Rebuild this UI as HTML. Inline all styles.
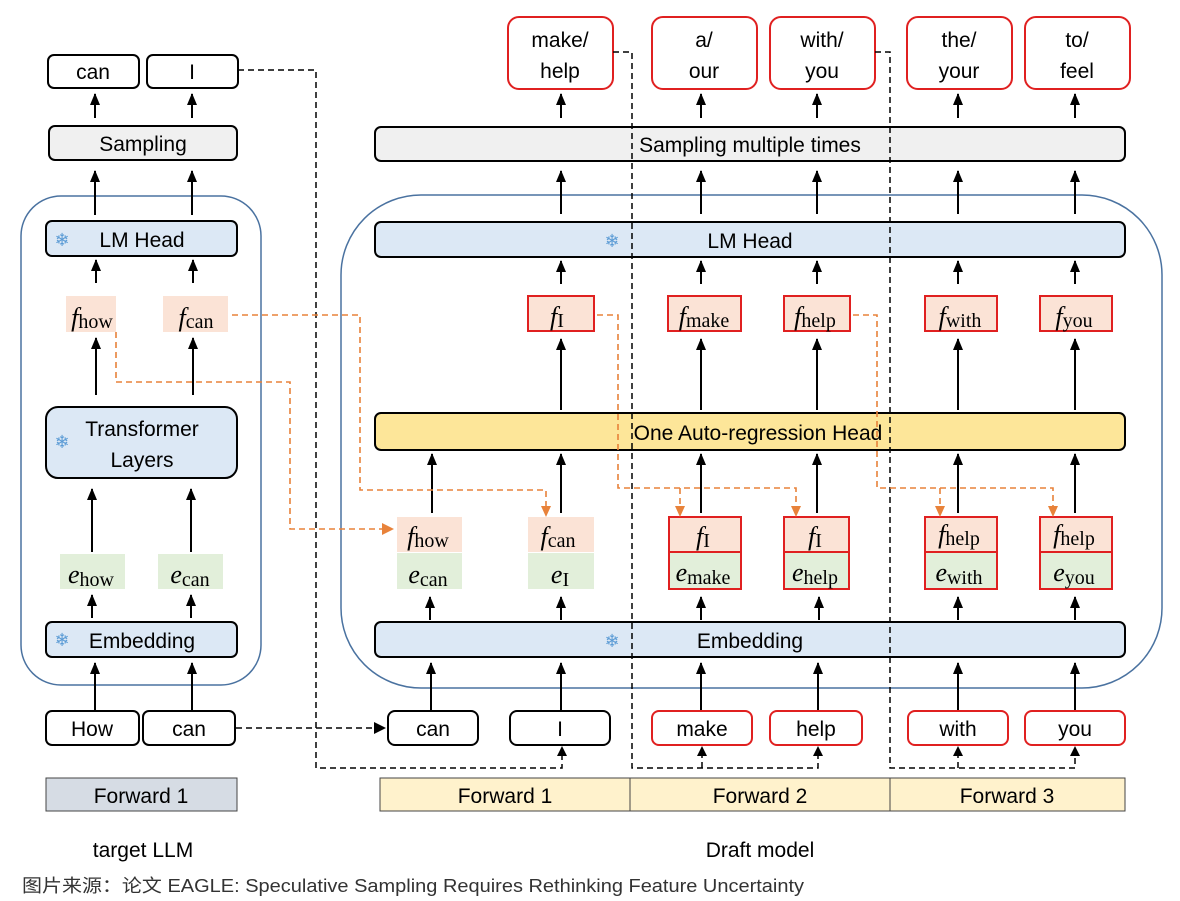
<!DOCTYPE html>
<html><head><meta charset="utf-8"><style>
html,body{margin:0;padding:0;background:#fff;width:1180px;height:901px;overflow:hidden}
svg{display:block}
.t{font-family:"Liberation Sans",sans-serif;font-size:21px;fill:#000;text-anchor:middle}
.m{font-family:"Liberation Serif",serif;fill:#000;text-anchor:middle}
.fi{font-style:italic;font-size:26px}
.sb{font-size:20px}
.sn{font-family:"DejaVu Sans",sans-serif;font-size:18px;fill:#5b9bd5;text-anchor:middle}
</style></head><body>
<svg width="1180" height="901" viewBox="0 0 1180 901" xmlns="http://www.w3.org/2000/svg">
<defs>
<marker id="a" markerWidth="12" markerHeight="12" refX="11" refY="5" orient="auto" markerUnits="userSpaceOnUse" viewBox="0 0 12 10"><path d="M0,0 L12,5 L0,10 z" fill="#000"/></marker>
<marker id="ar" markerWidth="12" markerHeight="12" refX="10" refY="6" orient="auto" markerUnits="userSpaceOnUse" viewBox="0 0 12 12"><path d="M0,0 L12,6 L0,12 z" fill="#e8823a"/></marker>
<marker id="ak" markerWidth="12" markerHeight="12" refX="10" refY="6" orient="auto" markerUnits="userSpaceOnUse" viewBox="0 0 12 12"><path d="M0,0 L12,6 L0,12 z" fill="#000"/></marker>
</defs>

<rect x="21" y="196" width="240" height="489" rx="40" fill="none" stroke="#4a72a0" stroke-width="1.5"/>
<rect x="341" y="195" width="821" height="493" rx="80" fill="none" stroke="#4a72a0" stroke-width="1.5"/>

<g stroke="#000" stroke-width="2" fill="#fff">
<rect x="48" y="55" width="91" height="33" rx="6"/>
<rect x="147" y="55" width="91" height="33" rx="6"/>
<rect x="49" y="126" width="188" height="34" rx="6" fill="#f0f0f0"/>
<rect x="46" y="221" width="191" height="35" rx="6" fill="#dce8f5"/>
<rect x="46" y="407" width="191" height="71" rx="12" fill="#dce8f5"/>
<rect x="46" y="622" width="191" height="35" rx="6" fill="#dce8f5"/>
<rect x="46" y="711" width="93" height="34" rx="6"/>
<rect x="143" y="711" width="92" height="34" rx="6"/>
</g>
<rect x="46" y="778" width="191" height="33" fill="#d6dce4" stroke="#444" stroke-width="1"/>
<rect x="66" y="296" width="50" height="36" fill="#fbe3d6"/>
<rect x="163" y="296" width="65" height="36" fill="#fbe3d6"/>
<rect x="60" y="554" width="65" height="35" fill="#e2efda"/>
<rect x="158" y="554" width="65" height="35" fill="#e2efda"/>

<g stroke="#000" stroke-width="2" marker-end="url(#a)">
<line x1="95" y1="118" x2="95" y2="94"/><line x1="192" y1="118" x2="192" y2="94"/>
<line x1="95" y1="215" x2="95" y2="171"/><line x1="192" y1="215" x2="192" y2="171"/>
<line x1="96" y1="283" x2="96" y2="260"/><line x1="193" y1="283" x2="193" y2="260"/>
<line x1="96" y1="395" x2="96" y2="338"/><line x1="193" y1="395" x2="193" y2="338"/>
<line x1="92" y1="552" x2="92" y2="489"/><line x1="191" y1="552" x2="191" y2="489"/>
<line x1="92" y1="618" x2="92" y2="595"/><line x1="191" y1="618" x2="191" y2="595"/>
<line x1="95" y1="710" x2="95" y2="663"/><line x1="192" y1="710" x2="192" y2="663"/>
</g>

<text class="t" x="93" y="79">can</text>
<text class="t" x="192" y="79">I</text>
<text class="t" x="143" y="151">Sampling</text>
<text class="sn" x="62" y="246">❄</text><text class="t" x="142" y="247">LM Head</text>
<text class="sn" x="62" y="448">❄</text>
<text class="t" x="142" y="436">Transformer</text><text class="t" x="142" y="467">Layers</text>
<text class="sn" x="62" y="646">❄</text><text class="t" x="142" y="648">Embedding</text>
<text class="t" x="92" y="736">How</text>
<text class="t" x="189" y="736">can</text>
<text class="t" x="141" y="803">Forward 1</text>
<text class="t" x="143" y="857">target LLM</text>

<text class="m" x="92" y="326"><tspan class="fi">f</tspan><tspan class="sb" dy="2">how</tspan></text>
<text class="m" x="196" y="326"><tspan class="fi">f</tspan><tspan class="sb" dy="2">can</tspan></text>
<text class="m" x="91" y="583"><tspan class="fi">e</tspan><tspan class="sb" dy="3">how</tspan></text>
<text class="m" x="190" y="583"><tspan class="fi">e</tspan><tspan class="sb" dy="3">can</tspan></text>

<g stroke="#e02020" stroke-width="2" fill="#fff">
<rect x="508" y="17" width="105" height="72" rx="11"/>
<rect x="652" y="17" width="105" height="72" rx="11"/>
<rect x="770" y="17" width="105" height="72" rx="11"/>
<rect x="907" y="17" width="105" height="72" rx="11"/>
<rect x="1025" y="17" width="105" height="72" rx="11"/>
</g>
<text class="t" x="560" y="47">make/</text><text class="t" x="560" y="78">help</text>
<text class="t" x="704" y="47">a/</text><text class="t" x="704" y="78">our</text>
<text class="t" x="822" y="47">with/</text><text class="t" x="822" y="78">you</text>
<text class="t" x="959" y="47">the/</text><text class="t" x="959" y="78">your</text>
<text class="t" x="1077" y="47">to/</text><text class="t" x="1077" y="78">feel</text>

<g stroke="#000" stroke-width="2">
<rect x="375" y="127" width="750" height="34" rx="6" fill="#f0f0f0"/>
<rect x="375" y="222" width="750" height="35" rx="6" fill="#dce8f5"/>
<rect x="375" y="413" width="750" height="37" rx="6" fill="#fde699"/>
<rect x="375" y="622" width="750" height="35" rx="6" fill="#dce8f5"/>
<rect x="388" y="711" width="90" height="34" rx="7" fill="#fff"/>
<rect x="510" y="711" width="100" height="34" rx="7" fill="#fff"/>
</g>
<g stroke="#e02020" stroke-width="2" fill="#fff">
<rect x="652" y="711" width="100" height="34" rx="7"/>
<rect x="770" y="711" width="92" height="34" rx="7"/>
<rect x="908" y="711" width="100" height="34" rx="7"/>
<rect x="1025" y="711" width="100" height="34" rx="7"/>
</g>
<rect x="380" y="778" width="745" height="33" fill="#fff2cc" stroke="#444" stroke-width="1"/>
<line x1="630" y1="778" x2="630" y2="811" stroke="#444"/>
<line x1="890" y1="778" x2="890" y2="811" stroke="#444"/>

<text class="t" x="750" y="152">Sampling multiple times</text>
<text class="sn" x="612" y="247">❄</text><text class="t" x="750" y="248">LM Head</text>
<text class="t" x="758" y="440">One Auto-regression Head</text>
<text class="sn" x="612" y="647">❄</text><text class="t" x="750" y="648">Embedding</text>
<text class="t" x="433" y="736">can</text>
<text class="t" x="560" y="736">I</text>
<text class="t" x="702" y="736">make</text>
<text class="t" x="816" y="736">help</text>
<text class="t" x="958" y="736">with</text>
<text class="t" x="1075" y="736">you</text>
<text class="t" x="505" y="803">Forward 1</text>
<text class="t" x="760" y="803">Forward 2</text>
<text class="t" x="1007" y="803">Forward 3</text>
<text class="t" x="760" y="857">Draft model</text>

<g fill="#fbe3d6" stroke="#e02020" stroke-width="2">
<rect x="528" y="296" width="66" height="35"/>
<rect x="668" y="296" width="73" height="35"/>
<rect x="784" y="296" width="66" height="35"/>
<rect x="925" y="296" width="72" height="35"/>
<rect x="1040" y="296" width="72" height="35"/>
</g>
<text class="m" x="557" y="325"><tspan class="fi">f</tspan><tspan class="sb" dy="2">I</tspan></text>
<text class="m" x="704" y="325"><tspan class="fi">f</tspan><tspan class="sb" dy="2">make</tspan></text>
<text class="m" x="815" y="325"><tspan class="fi">f</tspan><tspan class="sb" dy="2">help</tspan></text>
<text class="m" x="960" y="325"><tspan class="fi">f</tspan><tspan class="sb" dy="2">with</tspan></text>
<text class="m" x="1074" y="325"><tspan class="fi">f</tspan><tspan class="sb" dy="2">you</tspan></text>

<rect x="397" y="517" width="65" height="35" fill="#fbe3d6"/><rect x="397" y="553" width="65" height="36" fill="#e2efda"/>
<rect x="528" y="517" width="66" height="35" fill="#fbe3d6"/><rect x="528" y="553" width="66" height="36" fill="#e2efda"/>
<g stroke="#e02020" stroke-width="2">
<rect x="669" y="517" width="72" height="35" fill="#fbe3d6"/><rect x="669" y="552" width="72" height="37" fill="#e2efda"/>
<rect x="784" y="517" width="65" height="35" fill="#fbe3d6"/><rect x="784" y="552" width="65" height="37" fill="#e2efda"/>
<rect x="925" y="517" width="72" height="35" fill="#fbe3d6"/><rect x="925" y="552" width="72" height="37" fill="#e2efda"/>
<rect x="1040" y="517" width="72" height="35" fill="#fbe3d6"/><rect x="1040" y="552" width="72" height="37" fill="#e2efda"/>
</g>
<text class="m" x="428" y="545"><tspan class="fi">f</tspan><tspan class="sb" dy="2">how</tspan></text>
<text class="m" x="428" y="583"><tspan class="fi">e</tspan><tspan class="sb" dy="3">can</tspan></text>
<text class="m" x="558" y="545"><tspan class="fi">f</tspan><tspan class="sb" dy="2">can</tspan></text>
<text class="m" x="560" y="583"><tspan class="fi">e</tspan><tspan class="sb" dy="3">I</tspan></text>
<text class="m" x="703" y="545"><tspan class="fi">f</tspan><tspan class="sb" dy="2">I</tspan></text>
<text class="m" x="703" y="581"><tspan class="fi">e</tspan><tspan class="sb" dy="3">make</tspan></text>
<text class="m" x="815" y="545"><tspan class="fi">f</tspan><tspan class="sb" dy="2">I</tspan></text>
<text class="m" x="815" y="581"><tspan class="fi">e</tspan><tspan class="sb" dy="3">help</tspan></text>
<text class="m" x="959" y="543"><tspan class="fi">f</tspan><tspan class="sb" dy="2">help</tspan></text>
<text class="m" x="959" y="581"><tspan class="fi">e</tspan><tspan class="sb" dy="3">with</tspan></text>
<text class="m" x="1074" y="543"><tspan class="fi">f</tspan><tspan class="sb" dy="2">help</tspan></text>
<text class="m" x="1074" y="581"><tspan class="fi">e</tspan><tspan class="sb" dy="3">you</tspan></text>

<g stroke="#000" stroke-width="2" marker-end="url(#a)">
<line x1="561" y1="118" x2="561" y2="94"/><line x1="701" y1="118" x2="701" y2="94"/><line x1="817" y1="118" x2="817" y2="94"/><line x1="958" y1="118" x2="958" y2="94"/><line x1="1075" y1="118" x2="1075" y2="94"/>
<line x1="561" y1="214" x2="561" y2="171"/><line x1="701" y1="214" x2="701" y2="171"/><line x1="817" y1="214" x2="817" y2="171"/><line x1="958" y1="214" x2="958" y2="171"/><line x1="1075" y1="214" x2="1075" y2="171"/>
<line x1="561" y1="284" x2="561" y2="261"/><line x1="701" y1="284" x2="701" y2="261"/><line x1="817" y1="284" x2="817" y2="261"/><line x1="958" y1="284" x2="958" y2="261"/><line x1="1075" y1="284" x2="1075" y2="261"/>
<line x1="561" y1="410" x2="561" y2="339"/><line x1="701" y1="410" x2="701" y2="339"/><line x1="817" y1="410" x2="817" y2="339"/><line x1="958" y1="410" x2="958" y2="339"/><line x1="1075" y1="410" x2="1075" y2="339"/>
<line x1="432" y1="513" x2="432" y2="454"/><line x1="561" y1="513" x2="561" y2="454"/><line x1="701" y1="513" x2="701" y2="454"/><line x1="817" y1="513" x2="817" y2="454"/><line x1="958" y1="513" x2="958" y2="454"/><line x1="1075" y1="513" x2="1075" y2="454"/>
<line x1="430" y1="620" x2="430" y2="597"/><line x1="561" y1="620" x2="561" y2="597"/><line x1="701" y1="620" x2="701" y2="597"/><line x1="819" y1="620" x2="819" y2="597"/><line x1="958" y1="620" x2="958" y2="597"/><line x1="1075" y1="620" x2="1075" y2="597"/>
<line x1="431" y1="710" x2="431" y2="663"/><line x1="561" y1="710" x2="561" y2="663"/><line x1="701" y1="710" x2="701" y2="663"/><line x1="818" y1="710" x2="818" y2="663"/><line x1="958" y1="710" x2="958" y2="663"/><line x1="1075" y1="710" x2="1075" y2="663"/>
</g>

<g stroke="#000" stroke-width="1.5" stroke-dasharray="6,4" fill="none">
<polyline points="238,70 316,70 316,768 562,768 562,756"/>
<polyline points="613,52 632,52 632,768 818,768 818,756"/>
<line x1="702" y1="768" x2="702" y2="756"/>
<polyline points="875,52 890,52 890,768 1075,768 1075,756"/>
<line x1="958" y1="768" x2="958" y2="756"/>
<line x1="236" y1="728" x2="384" y2="728" marker-end="url(#ak)"/>
</g>
<g fill="#000">
<path d="M557,756 L562,746 L567,756z"/><path d="M697,756 L702,746 L707,756z"/><path d="M813,756 L818,746 L823,756z"/><path d="M953,756 L958,746 L963,756z"/><path d="M1070,756 L1075,746 L1080,756z"/>
</g>

<g stroke="#e8823a" stroke-width="1.6" stroke-dasharray="6,4" fill="none">
<polyline points="116,332 116,382 290,382 290,529 392,529" marker-end="url(#ar)"/>
<polyline points="232,315 360,315 360,490 546,490 546,508"/>
<polyline points="597,315 618,315 618,488 796,488 796,508"/>
<line x1="680" y1="488" x2="680" y2="508"/>
<polyline points="853,315 877,315 877,488 1053,488 1053,508"/>
<line x1="940" y1="488" x2="940" y2="508"/>
</g>
<g fill="#e8823a">
<path d="M541,506 L546,517 L551,506z"/><path d="M675,506 L680,517 L685,506z"/><path d="M791,506 L796,517 L801,506z"/><path d="M935,506 L940,517 L945,506z"/><path d="M1048,506 L1053,517 L1058,506z"/>
</g>

<text x="22" y="892" textLength="782" lengthAdjust="spacingAndGlyphs" style="font-family:'Liberation Sans','Noto Sans CJK SC',sans-serif;font-size:18px;fill:#333">图片来源：论文 EAGLE: Speculative Sampling Requires Rethinking Feature Uncertainty</text>
</svg>
</body></html>
